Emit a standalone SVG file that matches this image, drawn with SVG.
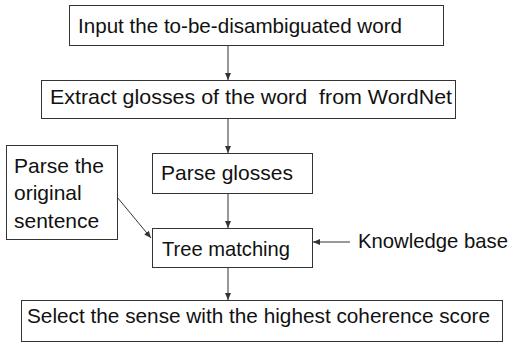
<svg xmlns="http://www.w3.org/2000/svg" width="514" height="344" viewBox="0 0 514 344">
<defs>
<marker id="ah" markerWidth="8" markerHeight="8" refX="7" refY="4" orient="auto" markerUnits="userSpaceOnUse">
<path d="M0,1 L7,4 L0,7 Z" fill="#333"/>
</marker>
<style>
.box{fill:#fff;stroke:#333;stroke-width:1}
.t{font-family:"Liberation Sans",Arial,sans-serif;font-size:21px;fill:#111}
.c{fill:none;stroke:#333;stroke-width:1;marker-end:url(#ah)}
</style>
</defs>
<rect width="514" height="344" fill="#fff"/>
<g id="connectors">
<line class="c" x1="228" y1="45" x2="228" y2="80"/>
<line class="c" x1="228" y1="118" x2="228" y2="153"/>
<line class="c" x1="228" y1="193" x2="228" y2="228"/>
<line class="c" x1="228" y1="267" x2="228" y2="300"/>
<line class="c" x1="117" y1="197" x2="151" y2="238"/>
<line class="c" x1="350" y1="242" x2="313" y2="242"/>
</g>
<g id="input">
<rect class="box" x="69.5" y="5.5" width="374" height="40"/>
<text class="t" x="78" y="33" textLength="324" lengthAdjust="spacingAndGlyphs">Input the to-be-disambiguated word</text>
</g>
<g id="extract">
<rect class="box" x="41.5" y="80.5" width="414" height="38"/>
<text class="t" x="50" y="104" xml:space="preserve" textLength="402" lengthAdjust="spacingAndGlyphs">Extract glosses of the word  from WordNet</text>
</g>
<g id="parse-glosses">
<rect class="box" x="152.5" y="153.5" width="160" height="40"/>
<text class="t" x="161" y="180">Parse glosses</text>
</g>
<g id="parse-sentence">
<rect class="box" x="6.5" y="145.5" width="111" height="94"/>
<text class="t" x="14" y="173">Parse the</text>
<text class="t" x="14" y="200">original</text>
<text class="t" x="14" y="228">sentence</text>
</g>
<g id="tree-matching">
<rect class="box" x="152.5" y="228.5" width="160" height="39"/>
<text class="t" x="162" y="256" textLength="128" lengthAdjust="spacingAndGlyphs">Tree matching</text>
</g>
<g id="knowledge-base">
<text class="t" x="358" y="248" textLength="150" lengthAdjust="spacingAndGlyphs">Knowledge base</text>
</g>
<g id="select">
<rect class="box" x="21.5" y="300.5" width="481" height="41"/>
<text class="t" x="27" y="323" textLength="463" lengthAdjust="spacingAndGlyphs">Select the sense with the highest coherence score</text>
</g>
</svg>
